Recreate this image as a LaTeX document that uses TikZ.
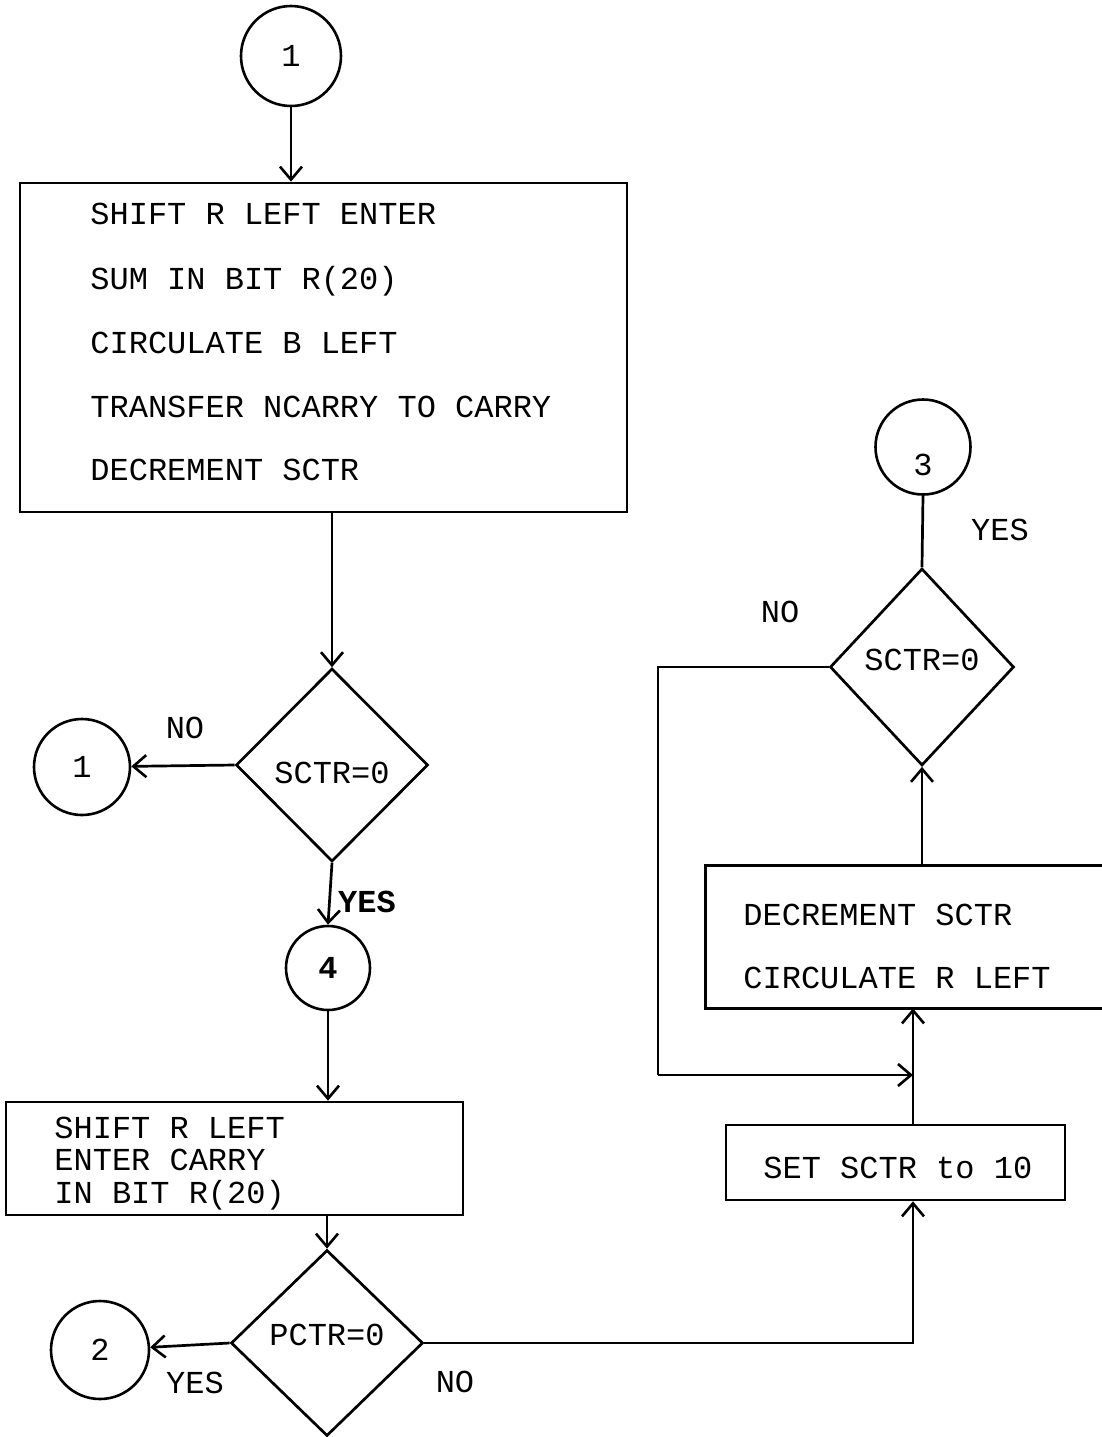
\documentclass[tikz,border=0pt]{standalone}
\usepackage{fontspec}
\setmainfont{Liberation Mono}
\usetikzlibrary{shapes.geometric,arrows.meta,calc}
\begin{document}
\begin{tikzpicture}[x=0.5pt,y=-0.5pt,
  every node/.style={font=\fontsize{16}{19}\selectfont},
  line/.style={line width=1.35pt},
  arr/.style={line width=1.35pt,-{Straight Barb[length=6.5pt,width=11pt,line width=1.3pt]}},
  circ/.style={circle,draw,line width=1.3pt,inner sep=0pt},
  dia/.style={diamond,draw,line width=1.35pt,inner sep=0pt},
  boxx/.style={rectangle,draw,line width=1.35pt,inner sep=0pt},
  txt/.style={anchor=base west,inner sep=0pt},
  lbl/.style={inner sep=0pt}]
\useasboundingbox (0,0) rectangle (1102,1437);

% top connector and first box
\node[circ,minimum size=50pt] (c1) at (291,56) {1};
\node[boxx,minimum width=303.5pt,minimum height=164.5pt] (b1) at (323.5,347.5) {};
\node[txt] (t11) at (90,224) {SHIFT R LEFT ENTER};
\node[txt] (t12) at (90,289) {SUM IN BIT R(20)};
\node[txt] (t13) at (90,353) {CIRCULATE B LEFT};
\node[txt] (t14) at (90,417) {TRANSFER NCARRY TO CARRY};
\node[txt] (t15) at (90,480) {DECREMENT SCTR};
\draw[arr] (c1.south) -- (c1.south |- b1.north);

% first decision
\node[dia,minimum width=96pt,minimum height=96.5pt,text height=19pt] (d1) at (332,765) {SCTR=0};
\draw[arr] (b1.south -| d1.north) -- (d1.north);
\node[circ,minimum size=48pt] (c1b) at (82,767) {1};
\draw[arr] (d1.west) -- (c1b);
\node[lbl] (no1) at (185,728) {NO};

% connector 4
\node[circ,minimum size=42pt] (c4) at (328,968) {\textbf{4}};
\draw[arr] (d1.south) -- (c4.north);
\node[lbl,font=\fontsize{16}{19}\selectfont\bfseries] (yes1) at (367,902) {YES};

% second box
\node[boxx,minimum width=228.5pt,minimum height=56.5pt] (b2) at (234.5,1158.5) {};
\node[txt] (t21) at (54,1138) {SHIFT R LEFT};
\node[txt] (t22) at (54,1170) {ENTER CARRY};
\node[txt] (t23) at (54,1203) {IN BIT R(20)};
\draw[arr] (c4.south) -- (c4.south |- b2.north);

% second decision
\node[dia,minimum width=96pt,minimum height=93pt,text depth=8pt] (d2) at (327,1343) {PCTR=0};
\draw[arr] (b2.south -| d2.north) -- (d2.north);
\node[circ,minimum size=49pt] (c2) at (100,1350) {2};
\draw[arr] (d2.west) -- (c2);
\node[lbl] (yes2) at (195,1383) {YES};
\node[lbl] (no2) at (455,1382) {NO};

% set box
\node[boxx,minimum width=169.5pt,minimum height=37.5pt] (set) at (895.5,1162.5) {};
\node[txt] (t31) at (763,1178) {SET SCTR to 10};
\coordinate (k) at (913,1343);
\draw[arr] (d2.east) -- (d2.east -| k) -- (k |- set.south);

% third box (open to the right edge)
\node[rectangle,inner sep=0pt,minimum width=199pt,minimum height=71pt] (b3) at (905,937) {};
\draw[line] (b3.north east) -- (b3.north west) -- (b3.south west) -- (b3.south east);
\node[txt] (t41) at (743,925) {DECREMENT SCTR};
\node[txt] (t42) at (743,988) {CIRCULATE R LEFT};
\draw[arr] (set.north -| k) -- (b3.south -| k);

% third decision
\node[dia,minimum width=92pt,minimum height=98.5pt,text depth=7pt] (d3) at (922,667) {SCTR=0};
\draw[arr] (b3.north -| d3.south) -- (d3.south);
\node[circ,minimum size=47.5pt,text height=29pt] (c3) at (923,447) {3};
\draw[line] (c3.south) -- (d3.north);
\node[lbl] (yes3) at (1000,530) {YES};
\node[lbl] (no3) at (780,612) {NO};
\coordinate (m) at (658,1075);
\draw[line] (d3.west) -- (d3.west -| m) -- (m);
\draw[arr] (m) -- (m -| k);
\end{tikzpicture}
\end{document}
